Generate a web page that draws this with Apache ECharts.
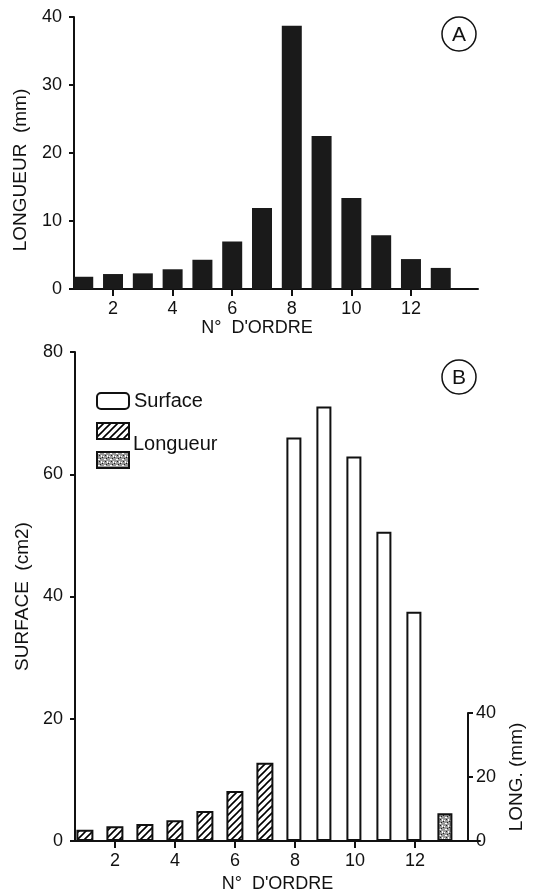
<!DOCTYPE html>
<html>
<head>
<meta charset="utf-8">
<script src="https://cdn.jsdelivr.net/npm/echarts@6/dist/echarts.min.js"></script>
<style>
html,body{margin:0;padding:0;background:#fff;}
#main{width:534px;height:891px;}
</style>
</head>
<body>
<div id="main"></div>
<script>
// A : longueur des feuilles
var ordreA = [1,2,3,4,5,6,7,8,9,10,11,12,13];
var longueurA = [1.8,2.2,2.3,2.9,4.3,7.0,11.9,38.7,22.5,13.4,7.9,4.4,3.1];
// B : surface (cm2) et longueur (mm)
var ordreSurface = [8,9,10,11,12];
var surfaceB = [66,71.1,62.9,50.6,37.5];
var ordreHachure = [1,2,3,4,5,6,7];
var hachureB = [1.85,2.4,2.8,3.4,4.9,8.2,12.8];
var ordrePoint = [13];
var longB = [8.7];
var xTicks = [2,4,6,8,10,12];
var yTicksA = [0,10,20,30,40];
var yTicksB = [0,20,40,60,80];
var yTicksLong = [0,20,40];

var FONT = '"Liberation Sans", Arial, sans-serif';
var INK = '#111';

function pairs(xs, ys){
    var out = [];
    for(var i = 0;i<xs.length;i++){
        out.push([xs[i], ys[i]]);
    }
    return out;
}
//hachures
function hatch(){
    var c = document.createElement('canvas');
    c.width = c.height = 7;
    var g = c.getContext('2d');
    g.fillStyle = '#fff';
    g.fillRect(0,0,7,7);
    g.strokeStyle = '#000';
    g.lineWidth = 1.6;
    g.beginPath();
    g.moveTo(0,7); g.lineTo(7,0);
    g.moveTo(-1,1); g.lineTo(1,-1);
    g.moveTo(6,8); g.lineTo(8,6);
    g.stroke();
    return c;
}
//pointillé
function stipple(){
    var c = document.createElement('canvas');
    c.width = c.height = 6;
    var g = c.getContext('2d');
    g.fillStyle = '#9a9a9a';
    g.fillRect(0,0,6,6);
    g.fillStyle = '#fff';
    g.fillRect(1,1,2,1); g.fillRect(4,3,1,2); g.fillRect(0,4,1,1);
    g.fillStyle = '#222';
    g.fillRect(3,0,1,1); g.fillRect(2,3,1,1); g.fillRect(5,5,1,1);
    return c;
}

var axisText = {color: INK, fontSize: 18, fontFamily: FONT};
var line = {lineStyle: {color: INK, width: 2}};

var chart = echarts.init(document.getElementById('main'));
var option = {
    backgroundColor: '#fff',
    animation: false,
    textStyle: {fontFamily: FONT, color: INK},
    grid: [
        {left: 74, right: 56, top: 17, bottom: 602, outerBoundsMode: 'none'},
        {left: 75, right: 54, top: 352, bottom: 50, outerBoundsMode: 'none'},
        {left: 75, right: 66, top: 713, bottom: 50, outerBoundsMode: 'none'}
    ],
    legend: {
        orient: 'vertical',
        left: 91,
        top: 386,
        itemWidth: 32,
        itemHeight: 16,
        itemGap: 11,
        textStyle: {color: INK, fontSize: 20, fontFamily: FONT, lineHeight: 16},
        data: [
            {name: 'Surface', icon: 'roundRect'},
            {name: 'Longueur', icon: 'rect'},
            {name: 'Longueur (n° 13)', icon: 'rect'}
        ],
        formatter: function(name){
            return name === 'Surface' ? name : '';
        }
    },
    graphic: [
        {type: 'circle', shape: {cx: 459, cy: 34, r: 17}, style: {fill: 'none', stroke: INK, lineWidth: 1.5}},
        {type: 'text', x: 459, y: 35, style: {text: 'A', fill: INK, font: '21px ' + FONT, align: 'center', verticalAlign: 'middle'}},
        {type: 'circle', shape: {cx: 459, cy: 377, r: 17}, style: {fill: 'none', stroke: INK, lineWidth: 1.5}},
        {type: 'text', x: 459, y: 378, style: {text: 'B', fill: INK, font: '21px ' + FONT, align: 'center', verticalAlign: 'middle'}},
        {type: 'text', x: 133, y: 444, style: {text: 'Longueur', fill: INK, font: '20px ' + FONT, verticalAlign: 'middle'}}
    ],
    xAxis: [
        {
            type: 'value', gridIndex: 0, min: 0.69, max: 14.25,
            name: "N°  D'ORDRE", nameLocation: 'middle', nameGap: 26,
            nameTextStyle: {color: INK, fontSize: 18, fontFamily: FONT, padding: [0,38,0,0]},
            axisLine: line, splitLine: {show: false},
            axisTick: {customValues: xTicks, length: 7, lineStyle: {color: INK, width: 2}},
            axisLabel: Object.assign({customValues: xTicks, margin: 11}, axisText)
        },
        {
            type: 'value', gridIndex: 1, min: 0.67, max: 14.17,
            name: "N°  D'ORDRE", nameLocation: 'middle', nameGap: 31,
            nameTextStyle: {color: INK, fontSize: 18, fontFamily: FONT},
            axisLine: line, splitLine: {show: false},
            axisTick: {customValues: xTicks, length: 7, lineStyle: {color: INK, width: 2}},
            axisLabel: Object.assign({customValues: xTicks, margin: 11}, axisText)
        },
        {
            type: 'value', gridIndex: 2, min: 0.67, max: 13.77, show: false
        }
    ],
    yAxis: [
        {
            type: 'value', gridIndex: 0, min: 0, max: 40,
            name: 'LONGUEUR  (mm)', nameLocation: 'middle', nameGap: 44, nameRotate: 90,
            nameTextStyle: {color: INK, fontSize: 19, fontFamily: FONT, padding: [0,34,0,0]},
            axisLine: {show: true, lineStyle: {color: INK, width: 2}},
            splitLine: {show: false},
            axisTick: {show: true, customValues: yTicksA, length: 5, lineStyle: {color: INK, width: 2}},
            axisLabel: Object.assign({customValues: yTicksA, margin: 12}, axisText)
        },
        {
            type: 'value', gridIndex: 1, min: 0, max: 80,
            name: 'SURFACE  (cm2)', nameLocation: 'middle', nameGap: 42, nameRotate: 90,
            nameTextStyle: {color: INK, fontSize: 19, fontFamily: FONT},
            axisLine: {show: true, lineStyle: {color: INK, width: 2}},
            splitLine: {show: false},
            axisTick: {show: true, customValues: yTicksB, length: 5, lineStyle: {color: INK, width: 2}},
            axisLabel: Object.assign({customValues: yTicksB, margin: 12}, axisText)
        },
        {
            type: 'value', gridIndex: 2, min: 0, max: 40, position: 'right',
            name: 'LONG. (mm)', nameLocation: 'middle', nameGap: 36, nameRotate: 90,
            nameTextStyle: {color: INK, fontSize: 19, fontFamily: FONT},
            axisLine: {show: true, lineStyle: {color: INK, width: 2}},
            splitLine: {show: false},
            axisTick: {show: true, customValues: yTicksLong, length: 5, lineStyle: {color: INK, width: 2}},
            axisLabel: Object.assign({customValues: yTicksLong, margin: 8}, axisText)
        }
    ],
    series: [
        {
            name: 'A', type: 'bar', xAxisIndex: 0, yAxisIndex: 0,
            barWidth: 20,
            itemStyle: {color: '#1a1a1a'},
            data: pairs(ordreA, longueurA)
        },
        {
            name: 'Surface', type: 'bar', xAxisIndex: 1, yAxisIndex: 1,
            barWidth: 15, barGap: '-100%',
            itemStyle: {color: '#fff', borderColor: INK, borderWidth: 2},
            data: pairs(ordreSurface, surfaceB)
        },
        {
            name: 'Longueur', type: 'bar', xAxisIndex: 1, yAxisIndex: 1,
            barWidth: 17, barGap: '-100%',
            itemStyle: {color: {image: hatch(), repeat: 'repeat'}, borderColor: INK, borderWidth: 2},
            data: pairs(ordreHachure, hachureB)
        },
        {
            name: 'Longueur (n° 13)', type: 'bar', xAxisIndex: 2, yAxisIndex: 2,
            barWidth: 15,
            itemStyle: {color: {image: stipple(), repeat: 'repeat'}, borderColor: INK, borderWidth: 2},
            data: pairs(ordrePoint, longB)
        }
    ]
};
chart.setOption(option);
</script>
</body>
</html>
